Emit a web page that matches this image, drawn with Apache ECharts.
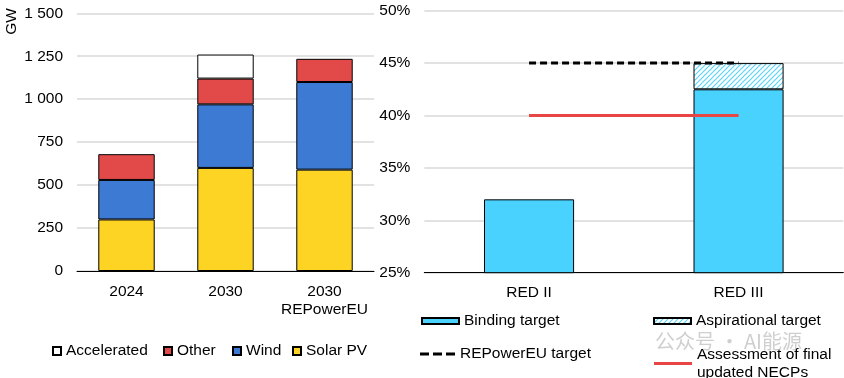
<!DOCTYPE html>
<html>
<head>
<meta charset="utf-8">
<script src="https://cdn.jsdelivr.net/npm/echarts@6/dist/echarts.min.js"></script>
<style>
html,body{margin:0;padding:0;background:#fff;}
#chart{width:844px;height:378px;}
</style>
</head>
<body>
<div id="chart"></div>
<script>
// ---- Data ----
const leftCategories = ['2024', '2030', '2030\nREPowerEU'];
const solarPV = [300, 600, 590];
const wind = [230, 370, 510];
const other = [150, 150, 135];
const accelerated = [null, 140, null];
const leftTicks = [0, 250, 500, 750, 1000, 1250, 1500];

const rightCategories = ['RED II', 'RED III'];
const bindingTarget = [32, 42.5];
const aspirationalTarget = [null, 2.5];
const repowerTarget = [45, 45];
const necpAssessment = [40, 40];

// ---- Styles ----
const FONT = 'Liberation Sans, Arial, sans-serif';
const FS = 15.5;
const C_SOLAR = '#FDD324';
const C_WIND = '#3C7AD3';
const C_OTHER = '#E24A4A';
const C_BIND = '#4AD2FE';
const C_RED = '#E84545';

function hatch() {
  const s = 5;
  const c = document.createElement('canvas');
  c.width = s; c.height = s;
  const g = c.getContext('2d');
  g.fillStyle = '#fff';
  g.fillRect(0, 0, s, s);
  g.strokeStyle = '#5CD3FA';
  g.lineWidth = 1.2;
  g.beginPath();
  g.moveTo(-1, s + 1); g.lineTo(s + 1, -1);
  g.moveTo(-s - 1, s + 1); g.lineTo(1, -1);
  g.moveTo(-1, 2 * s + 1); g.lineTo(2 * s + 1, -1);
  g.stroke();
  return c;
}

const chart = echarts.init(document.getElementById('chart'), null, {renderer: 'canvas'});

const textStyle = {fontFamily: FONT, fontSize: FS, color: '#000'};
const border = {borderColor: '#000', borderWidth: 1};

function leg(item, left, top, w, h, extra) {
  return Object.assign({
    data: [item], left: left, top: top, itemWidth: w, itemHeight: h,
    padding: 0, itemGap: 0, selectedMode: false, icon: 'rect',
    textStyle: Object.assign({}, textStyle)
  }, extra || {});
}

const option = {
  animation: false,
  textStyle: {fontFamily: FONT},
  grid: [
    {left: 77, top: 13.3, width: 297, height: 257.7},
    {left: 424.3, top: 10.7, width: 419, height: 262}
  ],
  xAxis: [
    {
      type: 'category', gridIndex: 0, data: leftCategories,
      axisLine: {lineStyle: {color: '#000', width: 1}},
      axisTick: {lineStyle: {color: '#000'}, length: 5},
      axisLabel: {color: '#000', fontSize: FS, fontFamily: FONT, margin: 12, lineHeight: 18, interval: 0}
    },
    {
      type: 'category', gridIndex: 1, data: rightCategories,
      axisLine: {lineStyle: {color: '#000', width: 1}},
      axisTick: {lineStyle: {color: '#000'}, length: 5},
      axisLabel: {color: '#000', fontSize: FS, fontFamily: FONT, margin: 12, interval: 0}
    }
  ],
  yAxis: [
    {
      type: 'value', gridIndex: 0, min: leftTicks[0], max: leftTicks[leftTicks.length - 1], interval: 250,
      axisLine: {show: false}, axisTick: {show: false},
      splitLine: {lineStyle: {color: '#D9D9D9', width: 1.5}},
      axisLabel: {color: '#000', fontSize: FS, fontFamily: FONT, margin: 14,
        formatter: v => String(v).replace(/\B(?=(\d{3})+(?!\d))/g, ' ')}
    },
    {
      type: 'value', gridIndex: 1, min: 25, max: 50, interval: 5,
      axisLine: {show: false}, axisTick: {show: false},
      splitLine: {lineStyle: {color: '#D9D9D9', width: 1.5}},
      axisLabel: {color: '#000', fontSize: FS, fontFamily: FONT, margin: 14, formatter: '{value}%'}
    }
  ],
  legend: [
    leg('Accelerated', 52, 343, 8, 8),
    leg('Other', 163, 343, 8, 8),
    leg('Wind', 232, 343, 8, 8),
    leg('Solar PV', 292, 343, 8, 8),
    leg('Binding target', 421, 313, 37, 6),
    leg('Aspirational target', 653, 313, 37, 6),
    leg({name: 'REPowerEU target', icon: 'path://M0,0h9v3h-9z M13,0h9v3h-9z M26,0h9v3h-9z'}, 420, 346, 35, 3,
      {textStyle: Object.assign({}, textStyle), itemStyle: {color: '#000'}}),
    leg({name: 'Assessment of final updated NECPs', icon: 'path://M0,0h38v3h-38z'}, 654, 337, 38, 3, {
      formatter: () => 'Assessment of final\nupdated NECPs',
      itemStyle: {color: C_RED},
      textStyle: Object.assign({}, textStyle, {lineHeight: 18, padding: [17, 0, 0, 0]})
    })
  ],
  series: [
    {name: 'Solar PV', type: 'bar', stack: 'gw', xAxisIndex: 0, yAxisIndex: 0, data: solarPV,
      barWidth: '57%', itemStyle: Object.assign({color: C_SOLAR}, border)},
    {name: 'Wind', type: 'bar', stack: 'gw', xAxisIndex: 0, yAxisIndex: 0, data: wind,
      itemStyle: Object.assign({color: C_WIND}, border)},
    {name: 'Other', type: 'bar', stack: 'gw', xAxisIndex: 0, yAxisIndex: 0, data: other,
      itemStyle: Object.assign({color: C_OTHER}, border)},
    {name: 'Accelerated', type: 'bar', stack: 'gw', xAxisIndex: 0, yAxisIndex: 0, data: accelerated,
      itemStyle: Object.assign({color: '#fff'}, border)},
    {name: 'Binding target', type: 'bar', stack: 'red', xAxisIndex: 1, yAxisIndex: 1, data: bindingTarget,
      barWidth: '43%', itemStyle: Object.assign({color: C_BIND}, border)},
    {name: 'Aspirational target', type: 'bar', stack: 'red', xAxisIndex: 1, yAxisIndex: 1, data: aspirationalTarget,
      itemStyle: Object.assign({color: {image: hatch(), repeat: 'repeat'}}, border)},
    {name: 'REPowerEU target', type: 'line', xAxisIndex: 1, yAxisIndex: 1, data: repowerTarget,
      symbol: 'none', z: 5, lineStyle: {color: '#000', width: 3, type: [7, 4]}, itemStyle: {color: '#000'}},
    {name: 'Assessment of final updated NECPs', type: 'line', xAxisIndex: 1, yAxisIndex: 1, data: necpAssessment,
      symbol: 'none', z: 5, lineStyle: {color: C_RED, width: 3}, itemStyle: {color: C_RED}}
  ],
  graphic: [
    {type: 'text', rotation: Math.PI / 2, left: 4, top: 8,
      style: {text: 'GW', fontFamily: FONT, fontSize: FS, fill: '#000'}},
    {type: 'text', left: 655, top: 331, z: 100,
      style: {text: '公众号 · AI能源', fontFamily: 'Noto Sans CJK SC', fontSize: 20, fill: 'rgba(160,160,160,0.5)'}}
  ]
};

chart.setOption(option);
</script>
</body>
</html>
